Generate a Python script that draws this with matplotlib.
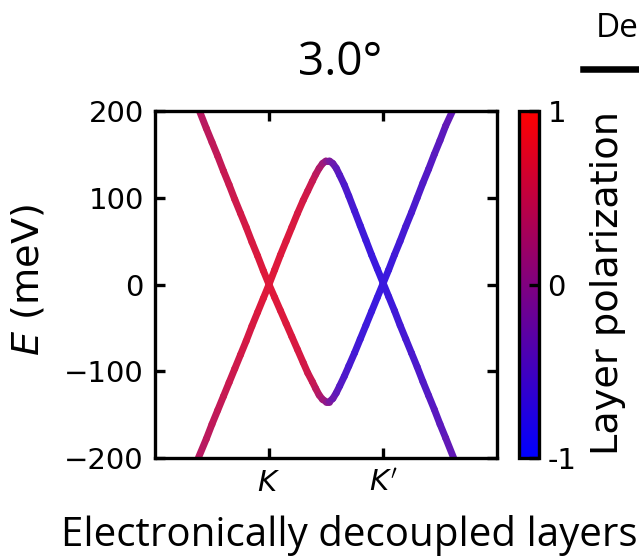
import numpy as np
import matplotlib
matplotlib.use('Agg')
import matplotlib.pyplot as plt
from matplotlib.collections import LineCollection
from matplotlib.colors import LinearSegmentedColormap, Normalize
from matplotlib.lines import Line2D

# band with the hump (max near the middle of K-K')
k_upper = [-0.62, -0.55, -0.5, -0.45, -0.4, -0.35, -0.3, -0.25, -0.2, -0.15, -0.1, -0.05,
           0.0, 0.05, 0.1, 0.15, 0.2, 0.25, 0.3, 0.34, 0.38, 0.41, 0.44, 0.47, 0.5, 0.53,
           0.56, 0.59, 0.62, 0.66, 0.7, 0.75, 0.8, 0.85, 0.9, 0.95, 1.0, 1.05, 1.1, 1.15,
           1.2, 1.25, 1.3, 1.35, 1.4, 1.45, 1.5, 1.55, 1.62]
E_upper = [-200, -178, -161, -145, -129, -113, -97, -81, -65, -48, -32, -16,
           0, 17, 34, 50, 66, 82, 97, 108, 119, 127, 134, 139.5, 142.5, 142.5,
           139.5, 134, 126, 115, 102, 85, 68, 51, 34, 18, 2, -14, -30, -47,
           -63, -79, -95, -112, -128, -144, -161, -177, -200]
pol_upper = [0.35, 0.40, 0.43, 0.46, 0.49, 0.52, 0.55, 0.58, 0.61, 0.64, 0.67, 0.70,
             0.72, 0.71, 0.70, 0.69, 0.67, 0.65, 0.62, 0.58, 0.52, 0.45, 0.36, 0.24, 0.08, -0.08,
             -0.24, -0.36, -0.45, -0.52, -0.58, -0.62, -0.65, -0.68, -0.70, -0.71, -0.72, -0.70, -0.67, -0.64,
             -0.61, -0.58, -0.55, -0.52, -0.49, -0.46, -0.43, -0.40, -0.35]

# band with the dip
k_lower = [-0.61, -0.55, -0.5, -0.45, -0.4, -0.35, -0.3, -0.25, -0.2, -0.15, -0.1, -0.05,
           0.0, 0.05, 0.1, 0.15, 0.2, 0.25, 0.3, 0.34, 0.38, 0.41, 0.44, 0.47, 0.5, 0.53,
           0.56, 0.59, 0.62, 0.66, 0.7, 0.75, 0.8, 0.85, 0.9, 0.95, 1.0, 1.05, 1.1, 1.15,
           1.2, 1.25, 1.3, 1.35, 1.4, 1.45, 1.5, 1.55, 1.61]
E_lower = [200, 180, 164, 148, 131, 115, 98, 82, 66, 49, 33, 16,
           0, -15, -30, -45, -60, -75, -90, -102, -112, -120, -127.5, -132.5, -135, -135,
           -131.5, -125, -117, -106, -94, -79, -63, -47, -31, -15, 1, 17, 34, 50,
           67, 83, 100, 117, 133, 150, 166, 183, 200]
pol_lower = [0.35, 0.40, 0.43, 0.46, 0.49, 0.52, 0.55, 0.58, 0.61, 0.64, 0.67, 0.70,
             0.72, 0.71, 0.70, 0.69, 0.67, 0.65, 0.62, 0.58, 0.52, 0.45, 0.36, 0.24, 0.08, -0.08,
             -0.24, -0.36, -0.45, -0.52, -0.58, -0.62, -0.65, -0.68, -0.70, -0.71, -0.72, -0.70, -0.67, -0.64,
             -0.61, -0.58, -0.55, -0.52, -0.49, -0.46, -0.43, -0.40, -0.35]

yticks = [-200, -100, 0, 100, 200]
xticks = [0, 1]
xticklabels = ['$K$', "$K'$"]
cbar_ticks = [-1, 0, 1]
cbar_labels = ['-1', '0', '1']

W, H = 639, 556
cmap = LinearSegmentedColormap.from_list('layer', ['blue', 'red'])
norm = Normalize(-1, 1)
ALPHA = 0.9

fig = plt.figure(figsize=(W / 100, H / 100), dpi=100)
ax = fig.add_axes([155 / W, 98 / H, 342 / W, 347 / H])
cax = fig.add_axes([519 / W, 98 / H, 20 / W, 347 / H])


def band(k, E, p):
    pts = np.column_stack([k, E])
    segs = np.stack([pts[:-1], pts[1:]], axis=1)
    pm = 0.5 * (np.array(p[:-1]) + np.array(p[1:]))
    # faded colour, drawn opaque so segment joints do not show
    rgb = cmap(norm(pm))[:, :3]
    rgb = ALPHA * rgb + (1 - ALPHA)
    lc = LineCollection(segs, colors=rgb, linewidths=5, capstyle='round',
                        joinstyle='round')
    ax.add_collection(lc)


band(k_upper, E_upper, pol_upper)
band(k_lower, E_lower, pol_lower)

ax.set_xlim(-1, 2)
ax.set_ylim(-200, 200)
ax.set_xticks(xticks)
ax.set_xticklabels(xticklabels)
ax.set_yticks(yticks)
ax.tick_params(direction='in', top=True, right=True, length=7, width=2.4,
               labelsize=21, pad=8)
for s in ax.spines.values():
    s.set_linewidth(2.4)

sm = plt.cm.ScalarMappable(cmap=cmap, norm=norm)
cb = fig.colorbar(sm, cax=cax, ticks=cbar_ticks)
cb.set_ticklabels(cbar_labels)
cb.outline.set_linewidth(2.4)
cax.tick_params(direction='in', length=7, width=2.4, labelsize=21, pad=6)

fig.text(340 / W, 1 - 75 / H, '3.0°', ha='center', va='baseline', fontsize=33,
         family='Open Sans')
fig.text(349 / W, 1 - 546 / H, 'Electronically decoupled layers', ha='center',
         va='baseline', fontsize=29, family='Open Sans')
fig.text(28 / W, 1 - 280 / H, '$E$ (meV)', rotation=90, ha='center', va='center',
         fontsize=27.5)
fig.text(608 / W, 1 - 283 / H, 'Layer polarization', rotation=90, ha='center',
         va='center', fontsize=27.5)
fig.text(596 / W, 1 - 37 / H, 'De', ha='left', va='baseline', fontsize=24,
         family='Open Sans')
fig.add_artist(Line2D([583 / W, 1.0], [1 - 69 / H, 1 - 69 / H], color='k', lw=4.7))

fig.savefig('out.png', dpi=100)
